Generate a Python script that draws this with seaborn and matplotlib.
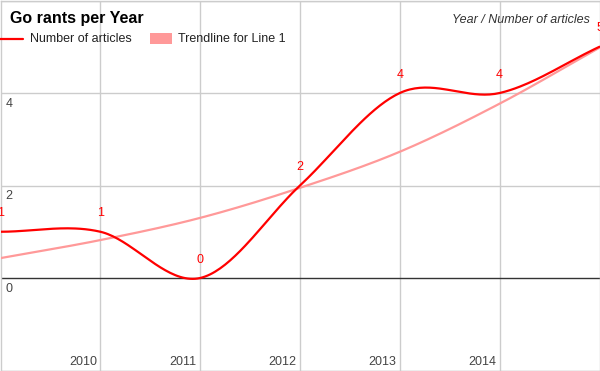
import numpy as np
import pandas as pd
import matplotlib
matplotlib.use('Agg')
import matplotlib.pyplot as plt
import matplotlib.patches as mpatches
import seaborn as sns

# data
years = [2009, 2010, 2011, 2012, 2013, 2014, 2015]
articles = [1, 1, 0, 2, 4, 4, 5]
trendline = [0.43, 0.82, 1.30, 1.95, 2.73, 3.77, 4.98]
xtick_years = [2010, 2011, 2012, 2013, 2014]
ytick_vals = [0, 2, 4]

RED = '#ff0000'
PINK = '#ff9999'
GRID = '#cccccc'


def smooth(xs, ys, n=40):
    # cubic hermite (catmull-rom style) like the "function" curve type
    xs = np.asarray(xs, float)
    ys = np.asarray(ys, float)
    m = np.zeros_like(ys)
    m[1:-1] = (ys[2:] - ys[:-2]) / 2
    m[0] = ys[1] - ys[0]
    m[-1] = ys[-1] - ys[-2]
    out_x, out_y = [], []
    for i in range(len(xs) - 1):
        t = np.linspace(0, 1, n, endpoint=(i == len(xs) - 2))
        h00 = 2 * t**3 - 3 * t**2 + 1
        h10 = t**3 - 2 * t**2 + t
        h01 = -2 * t**3 + 3 * t**2
        h11 = t**3 - t**2
        dx = xs[i + 1] - xs[i]
        out_x.append(xs[i] + t * dx)
        out_y.append(h00 * ys[i] + h10 * dx * m[i] + h01 * ys[i + 1] + h11 * dx * m[i + 1])
    return np.concatenate(out_x), np.concatenate(out_y)


sns.set_style('white')
plt.rcParams['font.family'] = ['Liberation Sans', 'DejaVu Sans']

fig = plt.figure(figsize=(6, 3.71), dpi=100)
ax = fig.add_axes([0.5 / 600, 0.5 / 371, 599 / 600, 370 / 371])

tx, ty = smooth(years, trendline)
ax_df = pd.DataFrame({'year': tx, 'value': ty})
sns.lineplot(data=ax_df, x='year', y='value', color=PINK, linewidth=1.6, ax=ax, zorder=3)

sx, sy = smooth(years, articles)
line_df = pd.DataFrame({'year': sx, 'value': sy})
sns.lineplot(data=line_df, x='year', y='value', color=RED, linewidth=1.6, ax=ax, zorder=4)

ax.set_xlim(2009, 2015)
ax.set_ylim(-2, 6)
ax.set_xticks(xtick_years)
ax.set_yticks([-2, 2, 4, 6])
ax.set_xticklabels([])
ax.set_yticklabels([])
ax.tick_params(length=0)
ax.grid(True, color=GRID, linewidth=1)
ax.axhline(0, color='#333333', linewidth=1, zorder=2)
ax.set_xlabel('')
ax.set_ylabel('')
for sp in ax.spines.values():
    sp.set_color(GRID)
    sp.set_linewidth(1)

# x labels sit inside, right-aligned against the gridline
for yr in xtick_years:
    ax.annotate(str(yr), xy=(yr, 0), xycoords=('data', 'axes fraction'),
                xytext=(-2.5, 4), textcoords='offset points',
                ha='right', va='baseline', fontsize=9, color='#444444')

for v in ytick_vals:
    ax.annotate(str(v), xy=(0, v), xycoords=('axes fraction', 'data'),
                xytext=(3.5, -3.5), textcoords='offset points',
                ha='left', va='top', fontsize=9, color='#444444')

# value labels above points
for yr, val in zip(years, articles):
    ax.annotate(str(val), xy=(yr, val), xytext=(0, 13.3), textcoords='offset points',
                ha='center', va='center', fontsize=9, color=RED)

# title and axis caption
fig.text(10 / 600, 1 - 19 / 371, 'Go rants per Year', fontsize=11.5,
         fontweight='bold', color='black', ha='left', va='center')
fig.text(590 / 600, 1 - 20 / 371, 'Year / Number of articles', fontsize=9,
         style='italic', color='#333333', ha='right', va='center')

# legend drawn in pixel positions like the original
fig.add_artist(plt.Line2D([0, 23 / 600], [1 - 39 / 371, 1 - 39 / 371],
                          color=RED, linewidth=1.6, transform=fig.transFigure))
fig.text(30 / 600, 1 - 39 / 371, 'Number of articles', fontsize=9,
         color='#222222', ha='left', va='center')
fig.add_artist(mpatches.Rectangle((150 / 600, 1 - 44 / 371), 22 / 600, 11 / 371,
                                  facecolor=PINK, edgecolor='none',
                                  transform=fig.transFigure))
fig.text(178 / 600, 1 - 39 / 371, 'Trendline for Line 1', fontsize=9,
         color='#222222', ha='left', va='center')

fig.savefig('out.png', dpi=100)
